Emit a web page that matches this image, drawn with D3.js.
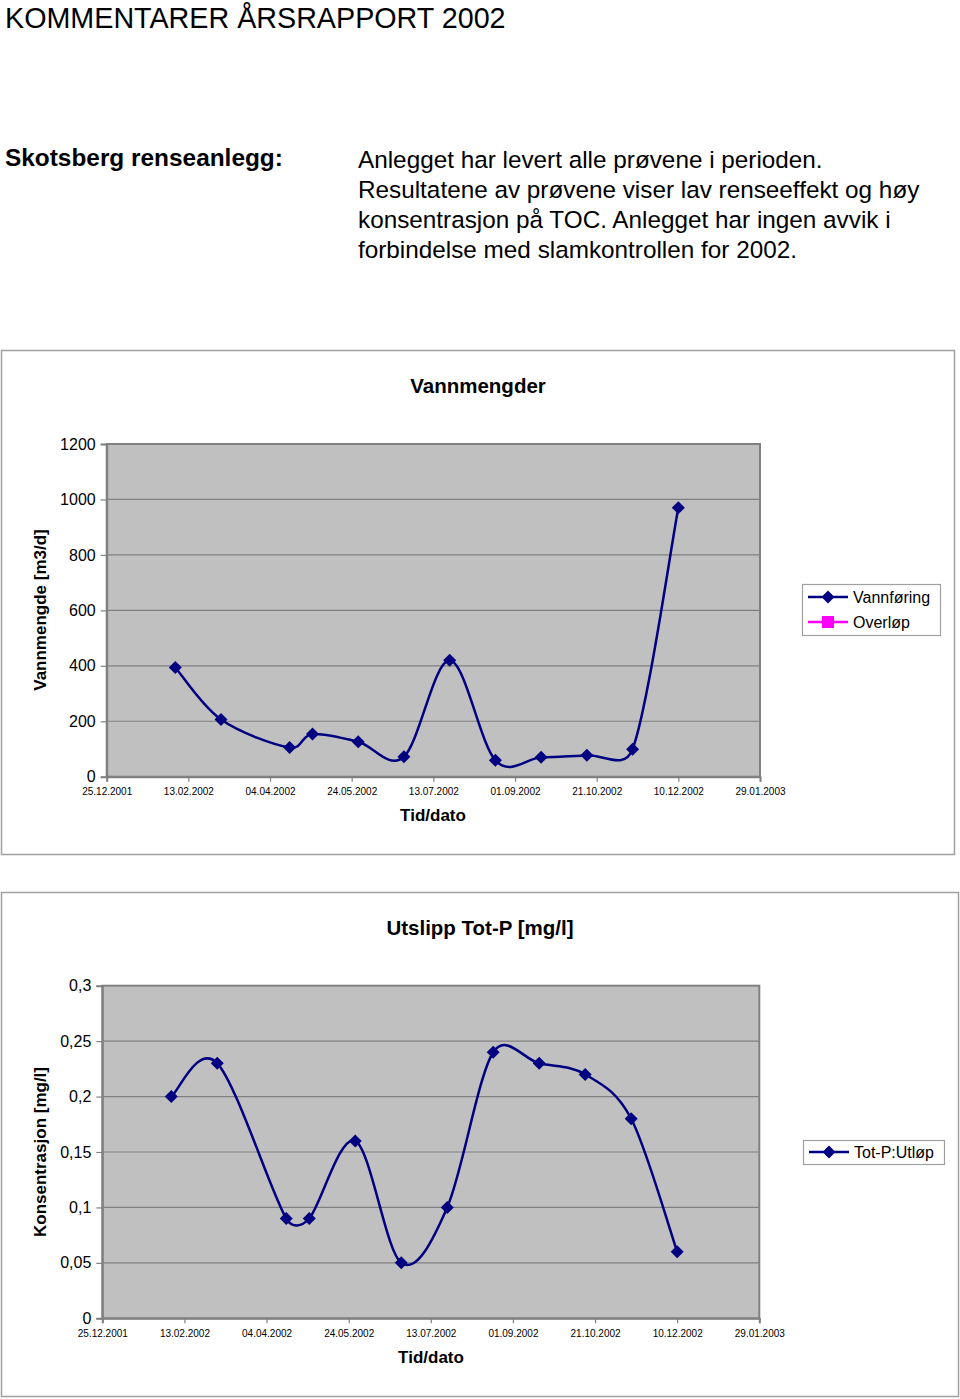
<!DOCTYPE html>
<html>
<head>
<meta charset="utf-8">
<script src="https://cdn.jsdelivr.net/npm/d3@7"></script>
<style>
  html, body { margin: 0; padding: 0; background: #fff; }
  svg { display: block; font-family: "Liberation Sans", Arial, sans-serif; }
</style>
</head>
<body>
<svg id="page" width="960" height="1399"></svg>
<script>
// ---------- DATA ----------
const sampleDates = ["05.02.2002", "05.03.2002", "16.04.2002", "30.04.2002", "28.05.2002", "25.06.2002",
                     "23.07.2002", "20.08.2002", "17.09.2002", "15.10.2002", "12.11.2002", "10.12.2002"];
const vannforing = [394, 206, 105, 154, 126, 72, 420, 59, 70, 77, 99, 970];
const overlop = [];
const totPUtlop = [0.20, 0.23, 0.09, 0.09, 0.16, 0.05, 0.10, 0.24, 0.23, 0.22, 0.18, 0.06];
const xTickLabels = ["25.12.2001", "13.02.2002", "04.04.2002", "24.05.2002", "13.07.2002",
                     "01.09.2002", "21.10.2002", "10.12.2002", "29.01.2003"];
const yTicksFlow = [0, 200, 400, 600, 800, 1000, 1200];
const yTicksP = [0, 0.05, 0.1, 0.15, 0.2, 0.25, 0.3];

const headerTitle = "KOMMENTARER ÅRSRAPPORT 2002";
const plantName = "Skotsberg renseanlegg:";
const commentLines = ["Anlegget har levert alle prøvene i perioden.",
  "Resultatene av prøvene viser lav renseeffekt og høy",
  "konsentrasjon på TOC. Anlegget har ingen avvik i",
  "forbindelse med slamkontrollen for 2002."];

// ---------- Excel-style smoothed curve (Bezier, handles capped at half segment) ----------
function curveExcel(context) {
  let pts = [];
  return {
    areaStart() {}, areaEnd() {},
    lineStart() { pts = []; },
    point(x, y) { pts.push([+x, +y]); },
    lineEnd() {
      const n = pts.length;
      if (!n) return;
      context.moveTo(pts[0][0], pts[0][1]);
      const dist = (a, b) => Math.hypot(b[0] - a[0], b[1] - a[1]);
      for (let i = 0; i < n - 1; i++) {
        const p0 = pts[Math.max(0, i - 1)], p1 = pts[i], p2 = pts[i + 1], p3 = pts[Math.min(n - 1, i + 2)];
        const d12 = dist(p1, p2), d02 = dist(p0, p2), d13 = dist(p1, p3);
        const f1 = (d02 / 6 < d12 / 2) ? 1 / 6 : (d02 > 0 ? d12 / (2 * d02) : 0);
        const f2 = (d13 / 6 < d12 / 2) ? 1 / 6 : (d13 > 0 ? d12 / (2 * d13) : 0);
        const c1 = [p1[0] + f1 * (p2[0] - p0[0]), p1[1] + f1 * (p2[1] - p0[1])];
        const c2 = [p2[0] - f2 * (p3[0] - p1[0]), p2[1] - f2 * (p3[1] - p1[1])];
        context.bezierCurveTo(c1[0], c1[1], c2[0], c2[1], p2[0], p2[1]);
      }
    }
  };
}

// ---------- PAGE TEXT ----------
const svg = d3.select("#page");
svg.append("text").attr("x", 5).attr("y", 28).attr("font-size", 28.7).attr("fill", "#000").text(headerTitle);
svg.append("text").attr("x", 5).attr("y", 166).attr("font-size", 24.4).attr("font-weight", "bold").text(plantName);
svg.append("g").selectAll("text").data(commentLines).join("text")
  .attr("x", 358).attr("y", (d, i) => 168 + i * 30).attr("font-size", 24.3).text(d => d);

const parse = d3.utcParse("%d.%m.%Y");
const fmtComma = d => String(d).replace(".", ",");

function drawChart(cfg) {
  const g = svg.append("g");
  // frame
  g.append("rect").attr("x", cfg.frame[0] + 0.5).attr("y", cfg.frame[1] + 0.5)
    .attr("width", cfg.frame[2] - cfg.frame[0]).attr("height", cfg.frame[3] - cfg.frame[1])
    .attr("fill", "#fff").attr("stroke", "#a0a0a0").attr("stroke-width", 1.5);

  const x = d3.scaleUtc().domain([parse(xTickLabels[0]), parse(xTickLabels[xTickLabels.length - 1])])
    .range([cfg.left, cfg.right]);
  const y = d3.scaleLinear().domain([cfg.yTicks[0], cfg.yTicks[cfg.yTicks.length - 1]]).range([cfg.bottom, cfg.top]);

  // plot area
  g.append("rect").attr("x", cfg.left).attr("y", cfg.top)
    .attr("width", cfg.right - cfg.left).attr("height", cfg.bottom - cfg.top)
    .attr("fill", "#c0c0c0");
  // gridlines
  g.append("g").selectAll("line").data(cfg.yTicks.slice(1, -1)).join("line")
    .attr("x1", cfg.left).attr("x2", cfg.right)
    .attr("y1", d => y(d)).attr("y2", d => y(d))
    .attr("stroke", "#808080").attr("stroke-width", 1.2);
  g.append("rect").attr("x", cfg.left).attr("y", cfg.top)
    .attr("width", cfg.right - cfg.left).attr("height", cfg.bottom - cfg.top)
    .attr("fill", "none").attr("stroke", "#808080").attr("stroke-width", 2);

  // y axis
  const yAxis = d3.axisLeft(y).tickValues(cfg.yTicks).tickSize(6).tickPadding(5)
    .tickFormat(cfg.yFormat);
  const ya = g.append("g").attr("transform", `translate(${cfg.left},0)`).call(yAxis);
  ya.select(".domain").attr("stroke", "#808080").attr("stroke-width", 2);
  ya.selectAll(".tick line").attr("stroke", "#808080").attr("stroke-width", 1.2);
  ya.selectAll(".tick text").attr("font-size", 16).attr("fill", "#000")
    .attr("font-family", "Liberation Sans, Arial, sans-serif");

  // x axis
  const xAxis = d3.axisBottom(x).tickValues(xTickLabels.map(parse)).tickSize(5).tickPadding(6.5)
    .tickFormat(d3.utcFormat("%d.%m.%Y"));
  const xa = g.append("g").attr("transform", `translate(0,${cfg.bottom})`).call(xAxis);
  xa.select(".domain").attr("stroke", "#808080").attr("stroke-width", 2);
  xa.selectAll(".tick line").attr("stroke", "#808080").attr("stroke-width", 1.2);
  xa.selectAll(".tick text").attr("font-size", 10).attr("fill", "#000")
    .attr("font-family", "Liberation Sans, Arial, sans-serif");

  // titles
  g.append("text").attr("x", cfg.titleX).attr("y", cfg.titleY).attr("text-anchor", "middle")
    .attr("font-size", 20.5).attr("font-weight", "bold").text(cfg.title);
  g.append("text").attr("transform", `translate(${cfg.yTitleX},${cfg.yTitleY}) rotate(-90)`)
    .attr("text-anchor", "middle").attr("font-size", 17).attr("font-weight", "bold").text(cfg.yTitle);
  g.append("text").attr("x", cfg.xTitleX).attr("y", cfg.xTitleY).attr("text-anchor", "middle")
    .attr("font-size", 17).attr("font-weight", "bold").text("Tid/dato");

  // series
  const pts = sampleDates.map((d, i) => ({ date: parse(d), v: cfg.values[i] }));
  const line = d3.line().x(d => x(d.date)).y(d => y(d.v)).curve(curveExcel);
  g.append("path").datum(pts).attr("d", line).attr("fill", "none")
    .attr("stroke", "#000080").attr("stroke-width", 2.5);
  const diamond = "M0,-6.5L6.5,0L0,6.5L-6.5,0Z";
  g.append("g").selectAll("path").data(pts).join("path")
    .attr("d", diamond).attr("transform", d => `translate(${x(d.date)},${y(d.v)})`)
    .attr("fill", "#000080");

  // legend
  const L = cfg.legend;
  g.append("rect").attr("x", L.x + 0.5).attr("y", L.y + 0.5).attr("width", L.w).attr("height", L.h)
    .attr("fill", "#fff").attr("stroke", "#a0a0a0").attr("stroke-width", 1.2);
  const rows = g.append("g").selectAll("g").data(L.items).join("g")
    .attr("transform", (d, i) => `translate(${L.x},${L.y + L.rowY0 + i * 25})`);
  rows.append("line").attr("x1", 6).attr("x2", 46).attr("y1", 0).attr("y2", 0)
    .attr("stroke", d => d.color).attr("stroke-width", 2.5);
  rows.append("path").attr("d", d => d.shape === "diamond" ? diamond : "M-6,-6H6V6H-6Z")
    .attr("transform", "translate(26,0)").attr("fill", d => d.color);
  rows.append("text").attr("x", 51).attr("y", 6).attr("font-size", 16).text(d => d.name);
}

drawChart({
  frame: [1, 350, 954, 854],
  left: 106.7, right: 760, top: 444, bottom: 776.7,
  yTicks: yTicksFlow, yFormat: d3.format("d"), values: vannforing,
  title: "Vannmengder", titleX: 478, titleY: 393,
  yTitle: "Vannmengde [m3/d]", yTitleX: 46, yTitleY: 610,
  xTitleX: 433, xTitleY: 821,
  legend: { x: 802, y: 584, w: 138, h: 51, rowY0: 13,
    items: [{ name: "Vannføring", color: "#000080", shape: "diamond" },
            { name: "Overløp", color: "#ff00ff", shape: "square", values: overlop }] }
});

drawChart({
  frame: [1, 892, 958, 1396],
  left: 102.3, right: 759.3, top: 985.7, bottom: 1318.3,
  yTicks: yTicksP, yFormat: fmtComma, values: totPUtlop,
  title: "Utslipp Tot-P [mg/l]", titleX: 480, titleY: 935,
  yTitle: "Konsentrasjon [mg/l]", yTitleX: 46, yTitleY: 1152,
  xTitleX: 431, xTitleY: 1363,
  legend: { x: 803, y: 1140, w: 141, h: 24, rowY0: 12,
    items: [{ name: "Tot-P:Utløp", color: "#000080", shape: "diamond" }] }
});
</script>
</body>
</html>
